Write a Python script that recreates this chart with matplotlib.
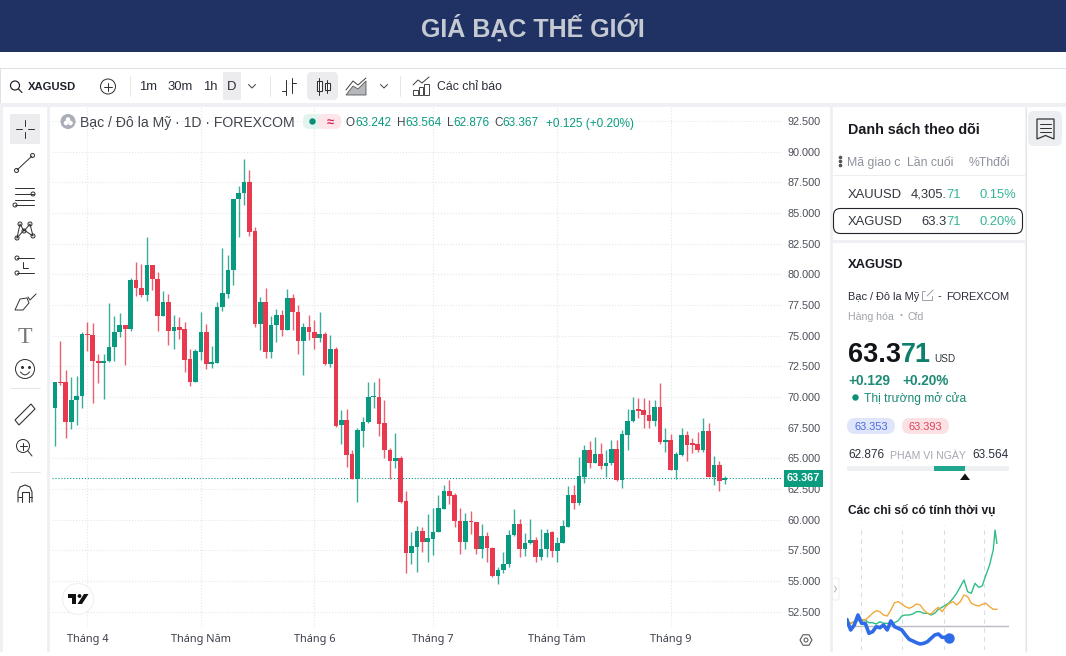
#!/usr/bin/env python3
"""Silver price page: daily XAGUSD candles with the surrounding chart widgets."""

import matplotlib
matplotlib.use("Agg")
import matplotlib.pyplot as plt
from matplotlib.patches import Rectangle, Circle, FancyBboxPatch, Polygon

plt.rcParams['font.family'] = ['Liberation Sans', 'DejaVu Sans']

# daily candles
opens = [69.08, 71.25, 71.20, 67.94, 69.76, 70.08, 75.16, 75.06, 72.96, 72.80,
         72.94, 74.05, 75.27, 75.87, 75.54, 79.54, 78.91, 78.32, 80.79, 79.65,
         76.63, 77.72, 75.41, 75.68, 75.52, 73.10, 71.25, 73.70, 75.30, 72.69,
         72.80, 77.31, 78.40, 80.35, 86.11, 86.60, 87.55, 83.53, 75.92, 77.72,
         73.64, 75.87, 76.66, 75.46, 78.05, 76.96, 74.60, 75.68, 75.27, 74.84,
         75.14, 72.69, 73.92, 67.69, 68.13, 65.33, 63.32, 67.26, 67.94, 69.98,
         70.03, 67.86, 65.68, 64.79, 65.03, 61.53, 57.29, 57.80, 59.08, 58.18,
         58.45, 59.03, 60.87, 62.34, 62.02, 59.87, 58.16, 59.90, 59.81, 57.59,
         58.65, 57.67, 55.44, 55.87, 56.36, 58.73, 59.68, 57.59, 58.08, 58.35,
         56.99, 57.62, 58.98, 57.46, 58.14, 59.44, 62.02, 61.40, 63.52, 65.69,
         64.66, 65.34, 64.39, 64.66, 65.74, 63.24, 66.91, 68.05, 68.95, 68.95,
         68.57, 68.08, 69.22, 66.31, 66.50, 64.06, 65.28, 66.94, 66.18, 66.15,
         65.66, 67.24, 63.52, 64.47, 63.242]
highs = [71.20, 74.57, 72.20, 71.60, 71.71, 75.33, 76.09, 76.01, 73.51, 73.51,
         77.64, 76.60, 76.82, 75.87, 79.67, 81.03, 80.84, 83.07, 80.79, 80.16,
         78.67, 78.37, 76.69, 76.55, 76.09, 73.89, 73.89, 76.96, 75.92, 74.19,
         77.72, 82.12, 81.58, 86.17, 87.20, 89.37, 88.50, 83.83, 78.13, 78.86,
         76.60, 77.15, 77.09, 78.80, 78.40, 77.50, 76.01, 76.69, 76.28, 76.96,
         75.33, 75.06, 74.11, 68.94, 69.00, 65.68, 67.50, 68.35, 71.25, 71.20,
         71.58, 69.76, 65.82, 67.10, 65.22, 62.34, 58.97, 59.52, 59.43, 60.44,
         60.93, 62.02, 62.83, 63.24, 62.15, 60.98, 60.52, 60.71, 59.84, 59.62,
         58.97, 57.80, 56.17, 57.40, 59.16, 60.85, 60.03, 58.95, 60.06, 58.62,
         59.22, 59.22, 59.09, 58.63, 59.98, 62.78, 62.84, 65.09, 66.10, 66.45,
         66.78, 66.29, 65.69, 66.50, 66.50, 67.32, 69.00, 70.04, 69.90, 69.96,
         69.76, 69.76, 71.12, 67.46, 67.00, 65.55, 67.46, 67.26, 66.69, 67.18,
         68.27, 67.92, 65.23, 64.82, 63.564]
lows = [66.01, 70.98, 66.69, 67.42, 67.72, 69.08, 73.78, 69.54, 71.17, 69.81,
        72.88, 72.94, 74.87, 72.61, 75.41, 78.26, 78.13, 77.85, 78.72, 75.41,
        76.63, 74.24, 73.91, 74.70, 72.07, 70.90, 71.25, 73.02, 72.26, 72.39,
        72.75, 77.04, 78.04, 79.13, 83.07, 85.65, 83.15, 75.73, 73.83, 73.15,
        73.15, 74.46, 75.00, 75.46, 75.46, 73.51, 71.80, 74.65, 73.89, 74.51,
        72.61, 72.48, 67.59, 66.17, 64.32, 63.32, 61.47, 65.90, 67.91, 69.13,
        66.85, 65.06, 63.29, 64.24, 61.34, 55.63, 56.36, 55.71, 57.40, 56.58,
        57.12, 58.97, 60.87, 61.28, 59.43, 57.21, 57.59, 58.84, 57.21, 56.85,
        56.58, 55.36, 54.73, 55.63, 56.17, 58.70, 56.99, 57.04, 58.02, 56.58,
        56.72, 56.99, 56.99, 56.53, 58.08, 59.44, 60.88, 61.21, 63.03, 64.19,
        64.60, 64.14, 63.52, 64.47, 63.19, 62.62, 65.69, 68.00, 68.32, 67.46,
        67.46, 67.65, 66.18, 65.55, 64.06, 63.30, 65.23, 64.79, 65.47, 65.55,
        65.50, 63.46, 62.84, 62.37, 62.876]
closes = [71.20, 71.14, 67.94, 69.76, 70.08, 75.14, 75.06, 72.94, 72.80, 72.94,
          74.05, 75.30, 75.87, 75.54, 79.54, 78.91, 78.32, 80.79, 79.65, 76.63,
          77.72, 75.41, 75.68, 75.46, 73.05, 71.25, 73.75, 75.30, 72.69, 72.83,
          77.36, 78.45, 80.35, 86.17, 86.60, 87.55, 83.48, 75.92, 77.72, 73.64,
          75.87, 76.66, 75.46, 78.10, 76.96, 74.60, 75.68, 75.27, 74.84, 75.14,
          72.69, 73.89, 67.67, 68.13, 65.30, 63.32, 67.31, 67.94, 69.98, 70.06,
          67.83, 65.66, 64.79, 65.03, 61.47, 57.29, 57.83, 59.08, 58.18, 58.48,
          59.03, 60.93, 62.34, 61.96, 59.87, 58.16, 59.87, 59.81, 57.59, 58.65,
          57.67, 55.44, 55.87, 56.36, 58.73, 59.68, 57.59, 58.13, 58.35, 56.99,
          57.62, 58.95, 57.46, 58.14, 59.49, 62.02, 61.40, 63.57, 65.69, 64.66,
          65.34, 64.39, 64.66, 65.74, 63.24, 66.97, 68.05, 68.92, 68.90, 68.51,
          68.08, 69.22, 66.31, 66.50, 64.06, 65.34, 66.94, 66.10, 66.12, 65.66,
          67.24, 63.52, 64.47, 63.19, 63.367]

price_ticks = [52.5, 55, 57.5, 60, 62.5, 65, 67.5, 70, 72.5, 75, 77.5, 80, 82.5, 85, 87.5, 90, 92.5]
month_index = [6, 27, 48, 70, 93, 114]
month_labels = ['Tháng 4', 'Tháng Năm', 'Tháng 6', 'Tháng 7', 'Tháng Tám', 'Tháng 9']

# seasonal panel, one sample every 8 days, values relative to the base line
season_green_days = list(range(0, 321, 8)) + [324, 328]
season_green = [1, 2.7, 4.3, 5.3, 6, 6, 3.3, 3.3, 2, 4.3, 2.7, 2.7, 2.7, 3.3, 5.3, 10, 11, 11, 12, 14.3,
                14.3, 12.7, 12.7, 11, 12.7, 16.7, 18.7, 21, 23.3, 27.7, 32.7, 39.3, 46, 34.3, 32.7,
                42.7, 38.7, 40, 51, 61, 76, 96, 82.7]
season_orange = [4.3, 2.7, 4.3, 6, 6.7, 6, 9.3, 12.7, 15.3, 14.3, 11, 10, 16, 23.3, 24.3, 22, 19.3, 17.7,
                 19.3, 22, 21, 16, 12.7, 12, 16, 18.7, 14.3, 19.3, 22.7, 24.3, 21, 24.3, 31, 29.3, 22.7,
                 21, 20, 21.7, 22.7, 19.3, 16.7, 16.7]
season_blue = [6, -4, 1, 11, 2.7, 2.7, -7.3, -5.7, -0.7, -1.7, 1, -4, 5, -0.7, -2.3, -4, -9, -13.3, -15,
               -16.7, -18, -17.3, -15.7, -12.3, -9, -8, -11.3, -11.3, -12.3]
season_quarters = [30, 120, 212, 300]

GREEN = '#089981'
RED = '#e8394e'
DARK = '#1f222b'
GRAY = '#8d919c'
GAP = '#eef0f3'

W, H = 1066, 656
fig = plt.figure(figsize=(W / 100, H / 100), dpi=100, facecolor='white')


def axes_px(x0, y0, x1, y1, **kw):
    return fig.add_axes([x0 / W, 1 - y1 / H, (x1 - x0) / W, (y1 - y0) / H], **kw)


bg = axes_px(0, 0, W, H, zorder=0)
ui = axes_px(0, 0, W, H, zorder=5)
for a in (bg, ui):
    a.set_xlim(0, W)
    a.set_ylim(H, 0)
    a.axis('off')


def box(x0, y0, x1, y1, color, ax=bg):
    ax.add_patch(Rectangle((x0, y0), x1 - x0, y1 - y0, facecolor=color, edgecolor='none'))


def pill(x0, y0, x1, y1, color, r=4, edge='none', lw=0):
    ui.add_patch(FancyBboxPatch((x0 + r, y0 + r), x1 - x0 - 2 * r, y1 - y0 - 2 * r,
                                boxstyle=f'round,pad={r},rounding_size={r}',
                                facecolor=color, edgecolor=edge, linewidth=lw))


def txt(x, y, s, px=12, color=DARK, ha='left', weight='normal', family=None):
    kw = {'family': family} if family else {}
    return ui.text(x, y, s, fontsize=px * 0.72, color=color, ha=ha, va='center_baseline',
                   fontweight=weight, **kw)


def run(x, y, parts, px=12, ha='left', weight='normal'):
    # text in several colours on one line
    r = fig.canvas.get_renderer()
    items = [txt(x, y, s, px, c, weight=weight) for s, c in parts]
    widths = [t.get_window_extent(r).width for t in items]
    cur = x - sum(widths) if ha == 'right' else x
    for t, w in zip(items, widths):
        t.set_x(cur)
        cur += w


def ln(xs, ys, c='#2a2e39', lw=1.0, **kw):
    ui.plot(xs, ys, color=c, lw=lw * 0.72, solid_capstyle='round', **kw)


def ring(x, y, r, c='#2a2e39', lw=1.0, fill='none'):
    ui.add_patch(Circle((x, y), r, facecolor=fill, edgecolor=c, linewidth=lw * 0.72))


# page frame
box(0, 0, W, 52, '#1f3263')
box(0, 68, W, 69, '#dfe1e6')
box(0, 103, W, H, GAP)
box(0, 652, W, H, 'white')
box(3, 107, 47, 652, 'white')
box(50, 107, 830, 652, 'white')
box(833, 107, 1025, 240, 'white')
box(833, 243, 1025, 652, 'white')
box(1027, 107, W, 652, 'white')
box(0, 69, 1, 103, '#dfe1e6')
txt(533, 25.5, 'GIÁ BẠC THẾ GIỚI', 25, '#c5cad2', ha='center', weight='bold')

# top toolbar
box(223, 72, 241, 100, '#ececee', ui)
pill(307, 72, 338, 100, '#ececee', r=5)
ring(15, 85.5, 4.5, DARK, 1.2)
ln([18.5, 22], [89, 92.5], DARK, 1.2)
txt(28, 86, 'XAGUSD', 11.3, DARK, weight='bold')
ring(108, 86.5, 7.5, '#333', 1)
ln([104, 112], [86.5, 86.5], '#333')
ln([108, 108], [82.5, 90.5], '#333')
for x, s in [(139, '1m'), (167, '30m'), (203, '1h'), (226.5, 'D')]:
    txt(x, 86, s, 13, '#2a2e39')
ln([248.5, 252, 255.5], [84.5, 88, 84.5], '#444')
ln([380.5, 384, 387.5], [84.5, 88, 84.5], '#444')
ln([130, 130], [76, 96], '#e6e6e6')
ln([270, 270], [76, 96], '#e6e6e6')
ln([400, 400], [76, 96], '#e6e6e6')
# bar icon
ln([286, 286], [80, 95], '#333')
ln([282, 286], [91, 91], '#333')
ln([292, 292], [78, 93], '#333')
ln([292, 296], [83, 83], '#333')
# candle icon
ln([319, 319], [78, 95], '#333')
ui.add_patch(Rectangle((316.5, 81), 5, 10, facecolor='white', edgecolor='#333', lw=0.8))
ln([327, 327], [80, 93], '#333')
ui.add_patch(Rectangle((324.5, 83), 5, 7, facecolor='white', edgecolor='#333', lw=0.8))
# area icon
ui.add_patch(Polygon([(346, 95), (353, 86), (358, 89), (366, 81), (366, 95)], facecolor='#b5b7bc', edgecolor='#555', lw=0.6))
ln([346, 353, 358, 366], [90, 81, 85, 78], '#444')
# indicators icon
for x0, h in [(413, 5), (418.5, 8), (424, 11)]:
    ui.add_patch(Rectangle((x0, 95 - h), 4.5, h, facecolor='none', edgecolor='#444', lw=0.7))
ln([413, 418, 422, 429], [85, 80, 83, 77], '#444')
txt(437, 86, 'Các chỉ báo', 12.3, '#2a2e39')

# drawing tools on the left
box(10, 114, 40, 144, '#ececee', ui)
ln([16, 22], [129, 129], '#333')
ln([28, 34], [129, 129], '#333')
ln([25, 25], [120, 126], '#333')
ln([25, 25], [132, 138], '#333')
ln([17, 32], [170, 156], '#333')
ring(16.5, 170.5, 2, '#333', 1, 'white')
ring(32.5, 155.5, 2, '#333', 1, 'white')
for y in (188, 194, 200, 205):
    ln([15, 34], [y, y], '#333')
ring(33, 194, 2, '#333', 1, 'white')
ring(15, 205, 2, '#333', 1, 'white')
ln([17, 20, 24, 30, 33, 24, 17], [238, 224, 231, 224, 236, 230, 238], '#333')
for x, y in [(17, 238), (20, 224), (24, 231), (30, 224), (33, 236)]:
    ring(x, y, 2, '#333', 1, 'white')
for y in (258, 273):
    ln([17, 34], [y, y], '#333')
    ring(17, y, 2, '#333', 1, 'white')
ln([23, 23, 28], [262, 268, 268], '#333')
ui.add_patch(Polygon([(15, 310), (20, 299), (27, 298), (29, 303), (23, 310)], facecolor='white', edgecolor='#333', lw=0.7))
ln([28, 30, 36], [297, 300, 294], '#333')
txt(25, 335, 'T', 24, '#777', ha='center', family='Liberation Serif')
ring(25, 369, 9.5, '#333')
ui.plot([21.5, 28.5], [366.5, 366.5], ls='none', marker='o', ms=1.2, color='#333')
ui.plot([20.5, 22.5, 25, 27.5, 29.5], [372, 374, 375, 374, 372], color='#333', lw=0.7)
ln([10, 40], [388, 388], '#e6e6e6')
ui.add_patch(Polygon([(15, 420), (31, 404), (35, 409), (19, 425)], facecolor='white', edgecolor='#333', lw=0.8))
ring(23, 446, 6.5, '#333')
ln([19.5, 26.5], [446, 446], '#333')
ln([23, 23], [442.5, 449.5], '#333')
ln([28, 32], [451, 456], '#333')
ln([10, 40], [472, 472], '#e6e6e6')
ln([18, 18, 20, 25, 30, 32, 32], [502, 492, 487, 485, 487, 492, 502], '#333', 1.1)
ln([21.5, 21.5, 28.5, 28.5], [502, 492, 492, 502], '#333', 1.1)
ln([18, 21.5], [497, 497], '#333')
ln([28.5, 32], [497, 497], '#333')

# candle chart, candle i centred on pixel 55 + 5.4 i
ax = axes_px(52, 107, 782, 627, zorder=1)
ax.patch.set_alpha(0)
x = list(range(len(closes)))
colors = [GREEN if c >= o else RED for o, c in zip(opens, closes)]
ax.vlines(x, lows, highs, colors=colors, linewidth=1.0, alpha=0.8, zorder=3)
ax.bar(x, [max(abs(c - o), 0.1) for o, c in zip(opens, closes)],
       bottom=[min(o, c) for o, c in zip(opens, closes)], width=0.86, color=colors, linewidth=0, zorder=4)
ax.set_xlim(-0.556, 134.6)
ax.set_ylim(51.26, 93.64)
ax.yaxis.tick_right()
ax.set_yticks(price_ticks)
ax.set_yticklabels([f'{p:.3f}' for p in price_ticks], fontsize=7.8, color='#4a4e58')
ax.set_xticks(month_index)
ax.set_xticklabels(month_labels, fontsize=7.9, color='#3c404a', fontweight='bold', family='Noto Sans')
ax.tick_params(length=0, axis='y', pad=4)
ax.tick_params(length=0, axis='x', pad=5)
ax.grid(True, color='#e4e6ea', linestyle=':', linewidth=0.8)
ax.set_axisbelow(True)
for sp in ax.spines.values():
    sp.set_visible(False)
ax.axhline(closes[-1], color=GREEN, linestyle=':', linewidth=0.8, zorder=2)
ax.annotate(f'{closes[-1]:.3f}', xy=(1, closes[-1]), xycoords=('axes fraction', 'data'),
            xytext=(21.5, 0), textcoords='offset pixels', ha='center', va='center',
            fontsize=7.8, color='white', fontweight='bold', annotation_clip=False, zorder=6,
            bbox=dict(boxstyle='square,pad=0.3', facecolor='#0b9c80', edgecolor='none'))

# legend row over the chart
ui.add_patch(Circle((68, 121.5), 7.5, facecolor='#a9adb6', edgecolor='none'))
ui.add_patch(Circle((66, 123), 2.3, facecolor='white', edgecolor='none'))
ui.add_patch(Circle((70.5, 123), 2.3, facecolor='white', edgecolor='none'))
ui.add_patch(Circle((68, 119.5), 2.3, facecolor='white', edgecolor='none'))
txt(80, 122, 'Bạc / Đô la Mỹ · 1D · FOREXCOM', 14, '#42454e')
pill(303, 114, 324, 129, '#e3f4ef', r=6)
pill(318, 114, 341, 129, '#fde5ea', r=6)
ui.add_patch(Circle((312.5, 121.5), 3.2, facecolor='#0a8d74', edgecolor='none'))
txt(330, 121.5, '≈', 13, '#d6204f', ha='center', weight='bold')
lg = '#0a9a80'
for xp, a, b in [(346, 'O', '63.242'), (397, 'H', '63.564'), (447, 'L', '62.876'), (494, 'C', '63.367')]:
    run(xp, 122, [(a, '#42454e'), (b, lg)], 11.8)
txt(546, 122, '+0.125 (+0.20%)', 11.8, lg)

# tradingview badge and scale gear
ring(78, 599, 15.5, '#eceef1', 1, 'white')
ui.add_patch(Polygon([(68, 594), (76, 594), (76, 604), (72, 604), (72, 597.5), (68, 597.5)], facecolor='#111', edgecolor='none'))
ui.add_patch(Circle((79.5, 596), 1.9, facecolor='#111', edgecolor='none'))
ui.add_patch(Polygon([(84, 594), (88.5, 594), (82, 604), (77.5, 604)], facecolor='#111', edgecolor='none'))
ui.add_patch(Polygon([(800, 640), (803, 634.8), (809, 634.8), (812, 640), (809, 645.2), (803, 645.2)], facecolor='white', edgecolor='#555', lw=0.8))
ring(806, 640, 2, '#555')

# watchlist panel
ln([1025.5, 1025.5], [107, 652], '#e4e6ea')
txt(848, 128, 'Danh sách theo dõi', 14.3, '#181a20', weight='bold')
ui.plot([839.5] * 3, [157, 161, 165], ls='none', marker='o', ms=1.6, color='#555')
txt(847, 161.5, 'Mã giao c', 12.2, GRAY)
txt(907, 161.5, 'Lần cuối', 12.2, GRAY)
txt(969, 161.5, '%Thđổi', 12.2, GRAY)
ln([833, 1025], [175, 175], '#eceef1')
teal = '#35b598'
txt(848, 193, 'XAUUSD', 13, '#33363f')
run(961, 193, [('4,305.', '#33363f'), ('71', teal)], 13, ha='right')
txt(1016, 193, '0.15%', 13, teal, ha='right')
pill(833.5, 208.5, 1022.5, 233.5, 'none', r=7, edge='#22242b', lw=0.8)
txt(848, 220.5, 'XAGUSD', 13, '#33363f')
run(961, 220.5, [('63.3', '#33363f'), ('71', teal)], 13, ha='right')
txt(1016, 220.5, '0.20%', 13, teal, ha='right')

# symbol details
txt(848, 264, 'XAGUSD', 13, '#181a20', weight='bold')
txt(848, 295.5, 'Bạc / Đô la Mỹ', 11, '#2a2e39')
ln([925, 922, 922, 932, 932], [291, 291, 300, 300, 296], '#a0a3ab')
ln([927, 933], [296, 290], '#a0a3ab')
txt(938, 295.5, '-', 11, '#2a2e39')
txt(946, 295.5, 'FOREXCOM', 11, '#2a2e39')
txt(848, 315.5, 'Hàng hóa', 10.5, '#a0a3ab')
txt(900, 315, '•', 8, '#a0a3ab')
txt(908, 315.5, 'Cfd', 10.5, '#a0a3ab')
run(848, 352, [('63.3', '#111318'), ('71', '#0d7f6b')], 27, weight='bold')
txt(934, 357.5, 'USD', 10, '#33363f')
txt(848, 379.5, '+0.129', 13.6, '#1c8a75', weight='bold')
txt(902, 379.5, '+0.20%', 13.6, '#1c8a75', weight='bold')
ui.add_patch(Circle((855.5, 397.5), 3.2, facecolor='#0e9078', edgecolor='none'))
txt(864, 397.5, 'Thị trường mở cửa', 12, '#1c8a75')
pill(847, 418, 895, 434, '#dfe6fb', r=8)
txt(871, 426.5, '63.353', 11, '#4a6ae0', ha='center')
pill(902, 418, 949, 434, '#fbe1e4', r=8)
txt(925.5, 426.5, '63.393', 11, '#e0405a', ha='center')
txt(848, 454, '62.876', 11.8, '#2a2e39')
txt(890, 454, 'PHẠM VI NGÀY', 10.5, '#a5a8b0')
txt(1009, 454, '63.564', 11.8, '#2a2e39', ha='right')
box(847, 466, 1009, 471, '#eff0f2', ui)
box(934, 466, 965, 471, '#1fa68c', ui)
ui.add_patch(Polygon([(960, 480), (970, 480), (965, 473.5)], facecolor='#111', edgecolor='none'))
txt(848, 509.5, 'Các chỉ số có tính thời vụ', 12, '#181a20', weight='bold')

# seasonal mini chart
season = axes_px(847, 525, 1009, 650, zorder=2)
season.patch.set_alpha(0)
season.set_xlim(0, 354.5)
season.set_ylim(-24, 101)
season.axis('off')
season.vlines(season_quarters, -24, 101, color='#dcdde1', linestyle=(0, (4, 4)), linewidth=0.8)
season.axhline(0, color='#b9bcc4', linewidth=1)
season.plot(season_green_days, season_green, color='#2fbf86', linewidth=1)
season.plot([8 * i for i in range(len(season_orange))], season_orange, color='#f2a93b', linewidth=1)
blue_days = [8 * i for i in range(len(season_blue))]
season.plot(blue_days, season_blue, color='#2f6be6', linewidth=2.6, solid_joinstyle='round')
season.plot(blue_days[-1], season_blue[-1], 'o', color='#2f6be6', markersize=6.5)

# collapse tab and notes button
pill(832.5, 578, 839, 600, 'white', r=2, edge='#eceef1', lw=0.7)
ln([834.5, 836.5, 834.5], [586, 589, 592], '#b0b3ba')
pill(1028, 111, 1062, 146, '#eceef1', r=6)
ui.add_patch(Polygon([(1037, 119), (1054, 119), (1054, 139), (1045.5, 135.5), (1037, 139)], facecolor='none', edgecolor='#333', lw=0.9))
for y in (124, 128, 132):
    ln([1040, 1051], [y, y], '#333')

fig.savefig('out.png', dpi=100, facecolor='white')
